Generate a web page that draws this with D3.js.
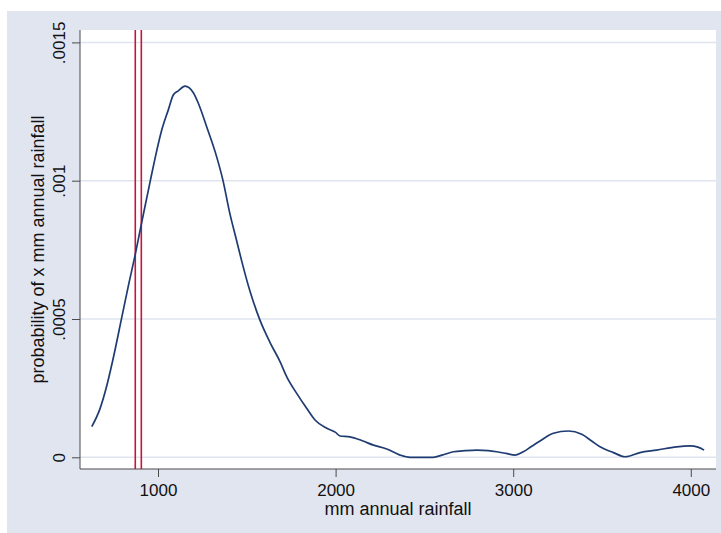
<!DOCTYPE html>
<html>
<head>
<meta charset="utf-8">
<script src="https://cdn.jsdelivr.net/npm/d3@7"></script>
<style>
  html, body { margin: 0; padding: 0; background: #ffffff; }
  svg { display: block; }
  text { font-family: "Liberation Sans", Arial, sans-serif; fill: #111; }
</style>
</head>
<body>
<svg id="chart" width="721" height="533"></svg>
<script>
// Kernel density of annual rainfall (mm)
const rainfall = [627, 673, 710, 745, 795, 833, 870, 899, 917, 955, 983, 1021, 1058, 1086, 1114, 1152,
  1199, 1227, 1274, 1330, 1365, 1405, 1440, 1471, 1518, 1574, 1631, 1687, 1725, 1781, 1837, 1884, 1950,
  2000, 2025, 2081, 2150, 2213, 2288, 2363, 2419, 2480, 2550, 2600, 2663, 2730, 2795, 2860, 2907,
  2960, 3011, 3057, 3100, 3151, 3226, 3311, 3386, 3440, 3489, 3564, 3630, 3714, 3808, 3921, 3996,
  4040, 4075];
const density = [0.000111, 0.000175, 0.000255, 0.00035, 0.000503, 0.00062, 0.000728, 0.00082, 0.000877,
  0.000995, 0.00108, 0.001183, 0.001256, 0.00131, 0.001325, 0.001342, 0.001318, 0.00128, 0.001195,
  0.001087, 0.001003, 0.00088, 0.00079, 0.00071, 0.0006, 0.000496, 0.000415, 0.000346, 0.000291, 0.000231,
  0.000177, 0.000135, 0.000105, 0.00009, 0.000077, 0.000074, 0.00006, 0.000044, 0.00003, 0.000008,
  0, 0, 0, 0.000008, 0.00002, 0.000024, 0.000026, 0.000024, 0.00002, 0.000014, 0.000008, 0.00002,
  0.000038, 0.000059, 0.000087, 0.000095, 0.000083, 0.00006, 0.000038, 0.000017, 0.000002, 0.000017,
  0.000026, 0.000038, 0.000041, 0.000037, 0.000026];
// Reference lines (mm)
const refLines = [872, 906];
const xTicks = [1000, 2000, 3000, 4000];
const yTicks = [0, 0.0005, 0.001, 0.0015];
const yTickLabels = ["0", ".0005", ".001", ".0015"];

const svg = d3.select("#chart");
const plot = { left: 80, right: 716, top: 30, bottom: 469 };

const x = d3.scaleLinear().domain([560.7, 4142]).range([plot.left, plot.right]);
const y = d3.scaleLinear().domain([0, 0.0015]).range([457.3, 42.4]);

// graph region background
svg.append("rect").attr("x", 7).attr("y", 11).attr("width", 714).attr("height", 522)
  .attr("fill", "#e1e5f0");
// plot region
svg.append("rect").attr("x", plot.left).attr("y", plot.top)
  .attr("width", plot.right - plot.left).attr("height", plot.bottom - plot.top)
  .attr("fill", "#ffffff");

// horizontal grid
svg.append("g").selectAll("line").data(yTicks).join("line")
  .attr("x1", plot.left).attr("x2", plot.right)
  .attr("y1", d => y(d)).attr("y2", d => y(d))
  .attr("stroke", "#dfe4ef").attr("stroke-width", 1.5);

// y axis
const yAxis = d3.axisLeft(y).tickValues(yTicks).tickSize(8)
  .tickFormat((d, i) => yTickLabels[i]);
const gy = svg.append("g").attr("transform", `translate(${plot.left},0)`).call(yAxis);
gy.select(".domain").attr("d", `M0,${plot.top}V${plot.bottom}`).attr("stroke", "#4a4a4a");
gy.selectAll(".tick line").attr("stroke", "#4a4a4a");
gy.selectAll(".tick text")
  .attr("x", null).attr("dy", null)
  .attr("transform", "translate(-15,0) rotate(-90)")
  .attr("text-anchor", "middle")
  .attr("font-size", 17)
  .style("font-family", "'Liberation Sans', Arial, sans-serif")
  .attr("fill", "#111");

// x axis
const xAxis = d3.axisBottom(x).tickValues(xTicks).tickSize(8).tickFormat(d3.format("d"));
const gx = svg.append("g").attr("transform", `translate(0,${plot.bottom})`).call(xAxis);
gx.select(".domain").attr("d", `M${plot.left},0H${plot.right}`).attr("stroke", "#4a4a4a");
gx.selectAll(".tick line").attr("stroke", "#4a4a4a");
gx.selectAll(".tick text")
  .attr("y", 27).attr("dy", null)
  .attr("font-size", 17)
  .style("font-family", "'Liberation Sans', Arial, sans-serif")
  .attr("fill", "#111");

// reference lines
svg.append("g").selectAll("line").data(refLines).join("line")
  .attr("x1", d => x(d)).attr("x2", d => x(d))
  .attr("y1", plot.top).attr("y2", plot.bottom)
  .attr("stroke", "#c8143c").attr("stroke-width", 1.6);

// density curve
const pts = rainfall.map((r, i) => [r, density[i]]);
svg.append("path").datum(pts)
  .attr("d", d3.line().x(d => x(d[0])).y(d => y(d[1])).curve(d3.curveMonotoneX))
  .attr("fill", "none").attr("stroke", "#1f3c72").attr("stroke-width", 1.7)
  .attr("stroke-linejoin", "round");

// axis titles
svg.append("text").attr("x", (plot.left + plot.right) / 2).attr("y", 515)
  .attr("text-anchor", "middle").attr("font-size", 18)
  .text("mm annual rainfall");
svg.append("text")
  .attr("transform", `translate(44,${(plot.top + plot.bottom) / 2}) rotate(-90)`)
  .attr("text-anchor", "middle").attr("font-size", 18)
  .text("probability of x mm annual rainfall");
</script>
</body>
</html>
